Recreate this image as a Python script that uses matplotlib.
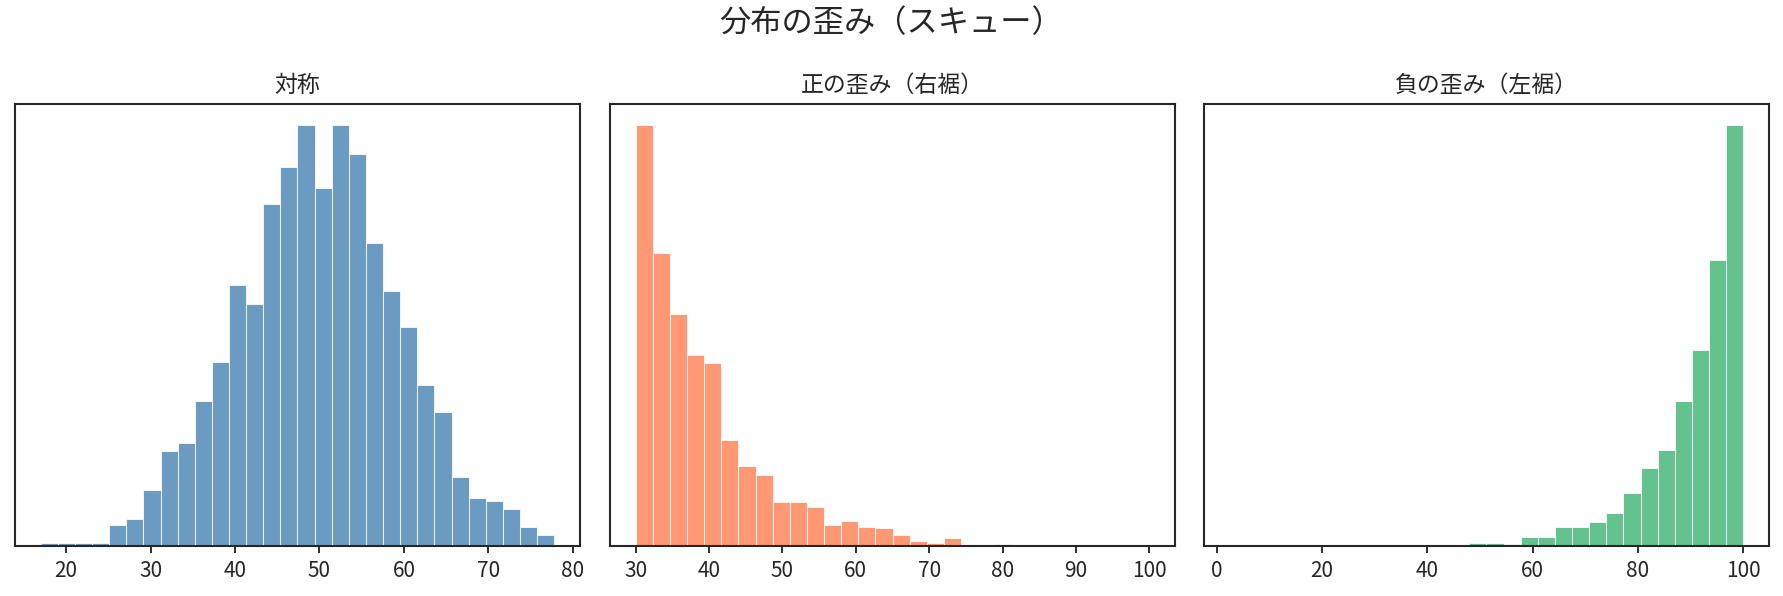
import numpy as np
import matplotlib
matplotlib.use("Agg")
import matplotlib.pyplot as plt

plt.rcParams['font.family'] = ['Noto Sans CJK JP', 'DejaVu Sans']

# ---- data (histogram counts) ----
sym_range = (17.0, 77.8)
sym_counts = [1, 1, 1, 1, 8, 10, 21, 36, 39, 55, 70, 99, 92, 130, 144,
              160, 136, 160, 149, 115, 97, 83, 61, 51, 26, 18, 17, 14, 7, 4]

pos_range = (30.0, 100.0)
pos_counts = [464, 323, 256, 210, 201, 117, 88, 78, 48, 48, 43, 23, 27, 21, 20,
              12, 5, 3, 8, 1, 1, 2, 0, 1, 0, 0, 0, 0, 0, 0]

neg_range = (2.5, 100.0)
neg_counts = [0, 0, 0, 0, 0, 0, 0, 0, 0, 0, 0, 0, 0, 1, 4,
              4, 2, 12, 12, 27, 27, 35, 47, 77, 113, 139, 209, 284, 413, 609]

titles = ['対称', '正の歪み（右裾）', '負の歪み（左裾）']
colors = ['steelblue', 'coral', 'mediumseagreen']
suptitle = '分布の歪み（スキュー）'

W, H, DPI = 1783, 596, 150
fig = plt.figure(figsize=(W / DPI, H / DPI), dpi=DPI)

ink = '#262626'
lefts = [15, 610, 1204]
ax_w = 565
top_px, bot_px = 104, 545.7

datasets = [(sym_range, sym_counts), (pos_range, pos_counts), (neg_range, neg_counts)]
for i, ((rng, counts), title, color) in enumerate(zip(datasets, titles, colors)):
    ax = fig.add_axes([lefts[i] / W, 1 - bot_px / H, ax_w / W, (bot_px - top_px) / H])
    edges = np.linspace(rng[0], rng[1], len(counts) + 1)
    ax.hist(edges[:-1], bins=edges, weights=counts, color=color, alpha=0.8,
            edgecolor='white', linewidth=0.5)
    ax.set_title(title, fontsize=11, color=ink, pad=6)
    ax.set_yticks([])
    for s in ax.spines.values():
        s.set_color(ink)
        s.set_linewidth(1.0)
    ax.tick_params(axis='x', colors=ink, labelsize=10, length=3.5, width=0.9)

fig.suptitle(suptitle, fontsize=15, color=ink, y=1 - 23 / H, va='center')

fig.savefig('out.png', dpi=DPI, facecolor='white')
